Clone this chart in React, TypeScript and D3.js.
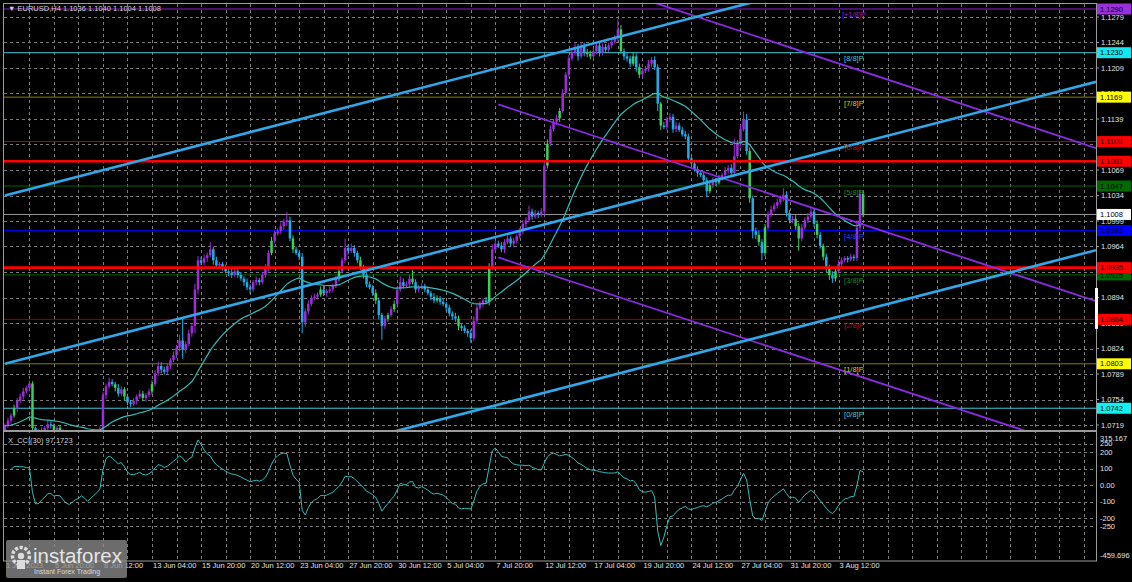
import * as d3 from "d3";

// ---- layout ----
const W = 1132;
const H = 582;
const LEFT = 4;
const RIGHT = 1096;
const MAIN_TOP = 4;
const MAIN_BOTTOM = 430;
const CCI_TOP = 433;
const CCI_BOTTOM = 561;
const FONT = "'Liberation Sans', Arial, sans-serif";

// ---- data (EURUSD H4, prices in pips above 1.0000) ----
const firstOpen = 712;
const closes = [
  718, 725, 732, 742, 752, // 1 Jun
  758, 765, 770, 776, 715, 710, // 2 Jun
  706, 712, 715, 720, 718, 712, // 5 Jun
  715, 710, 702, 695, 690, 697, // 6 Jun
  698, 700, 704, 697, 690, 700, // 7 Jun
  702, 706, 712, 760, 772, 778, // 8 Jun
  775, 770, 762, 768, 758, 750, // 9 Jun
  748, 752, 758, 762, 756, 760, // 12 Jun
  765, 775, 790, 800, 795, 792, // 13 Jun
  800, 808, 815, 825, 835, 822, // 14 Jun
  830, 845, 855, 905, 945, 942, // 15 Jun
  948, 952, 960, 945, 938, 940, // 16 Jun
  935, 930, 928, 925, 930, 925, // 19 Jun
  920, 915, 908, 905, 915, 918, // 20 Jun
  915, 925, 935, 955, 972, 982, // 21 Jun
  985, 992, 998, 1000, 975, 960, // 22 Jun
  955, 950, 860, 875, 885, 893, // 23 Jun
  895, 898, 905, 900, 903, 905, // 26 Jun
  910, 920, 930, 945, 962, 958, // 27 Jun
  962, 955, 945, 935, 925, 912, // 28 Jun
  908, 900, 890, 870, 855, 865, // 29 Jun
  870, 878, 885, 905, 915, 910, // 30 Jun
  912, 920, 915, 905, 908, 910, // 3 Jul
  905, 900, 895, 890, 893, 888, // 4 Jul
  885, 880, 872, 868, 865, 855, // 5 Jul
  852, 848, 845, 838, 862, 880, // 6 Jul
  885, 890, 888, 935, 960, 968, // 7 Jul
  965, 960, 970, 975, 968, 972, // 10 Jul
  978, 985, 995, 1000, 1012, 1005, // 11 Jul
  1010, 1008, 1012, 1075, 1105, 1125, // 12 Jul
  1135, 1140, 1150, 1175, 1200, 1222, // 13 Jul
  1230, 1238, 1225, 1240, 1230, 1228, // 14 Jul
  1225, 1232, 1240, 1230, 1238, 1234, // 17 Jul
  1240, 1245, 1250, 1262, 1232, 1225, // 18 Jul
  1222, 1215, 1225, 1210, 1200, 1205, // 19 Jul
  1208, 1215, 1220, 1210, 1160, 1130, // 20 Jul
  1128, 1138, 1142, 1125, 1130, 1124, // 21 Jul
  1118, 1115, 1085, 1078, 1070, 1065, // 24 Jul
  1062, 1055, 1040, 1048, 1055, 1052, // 25 Jul
  1058, 1062, 1068, 1072, 1065, 1088, // 26 Jul
  1105, 1125, 1138, 1095, 1030, 985, // 27 Jul
  980, 970, 955, 990, 1008, 1015, // 28 Jul
  1020, 1025, 1030, 1035, 1010, 1000, // 31 Jul
  1002, 992, 975, 990, 1000, 1005, // 1 Aug
  1012, 995, 980, 965, 950, 935, // 2 Aug
  925, 920, 930, 940, 945, 948, // 3 Aug
  946, 950, 948, 990, 1036, 1008, // 4 Aug
];
// wick lengths above max(open, close) / below min(open, close), pips
const wickHi = [
  3, 4, 3, 5, 4,
  4, 5, 3, 4, 3, 2,
  3, 4, 3, 5, 4, 3,
  3, 4, 3, 3, 5, 4,
  4, 3, 5, 3, 4, 4,
  3, 4, 5, 5, 4, 6,
  4, 3, 5, 4, 3, 4,
  3, 4, 3, 5, 4, 3,
  4, 5, 4, 6, 5, 4,
  4, 3, 5, 4, 8, 30,
  4, 5, 3, 8, 6, 5,
  5, 4, 10, 4, 5, 3,
  3, 4, 3, 5, 4, 3,
  4, 3, 5, 4, 3, 5,
  3, 4, 5, 4, 5, 4,
  4, 5, 4, 11, 5, 4,
  4, 3, 5, 4, 5, 4,
  4, 3, 4, 5, 3, 4,
  3, 4, 5, 4, 13, 5,
  6, 4, 3, 5, 4, 3,
  4, 3, 5, 4, 3, 4,
  3, 4, 5, 4, 8, 5,
  4, 5, 12, 4, 3, 4,
  3, 4, 3, 5, 4, 3,
  4, 3, 4, 3, 5, 4,
  3, 4, 3, 5, 6, 4,
  4, 3, 5, 6, 7, 5,
  4, 5, 4, 5, 3, 4,
  3, 4, 5, 4, 8, 4,
  4, 3, 5, 5, 6, 5,
  4, 5, 4, 5, 4, 5,
  4, 5, 4, 5, 4, 5,
  5, 4, 5, 4, 5, 4,
  4, 5, 4, 14, 6, 4,
  5, 4, 6, 4, 5, 4,
  4, 5, 4, 5, 4, 3,
  5, 4, 5, 4, 5, 4,
  4, 5, 4, 3, 5, 4,
  4, 5, 4, 5, 4, 3,
  4, 3, 5, 4, 5, 24,
  5, 6, 11, 8, 5, 4,
  5, 6, 4, 5, 4, 5,
  4, 5, 4, 9, 5, 4,
  4, 5, 4, 5, 4, 5,
  6, 4, 5, 4, 3, 4,
  4, 5, 4, 5, 4, 3,
  3, 4, 3, 10, 6, 4,
];
const wickLo = [
  4, 3, 4, 3, 5,
  3, 4, 3, 5, 8, 4,
  4, 3, 5, 3, 4, 5,
  4, 3, 4, 5, 3, 4,
  3, 4, 3, 5, 4, 3,
  4, 3, 3, 4, 5, 3,
  3, 5, 4, 3, 5, 4,
  4, 3, 5, 3, 4, 5,
  3, 4, 3, 4, 5, 4,
  3, 4, 3, 4, 5, 12,
  4, 3, 5, 10, 6, 4,
  4, 5, 3, 6, 4, 5,
  4, 3, 5, 4, 3, 4,
  3, 5, 4, 6, 3, 4,
  4, 3, 4, 5, 3, 4,
  3, 4, 5, 6, 4, 5,
  3, 5, 15, 6, 4, 3,
  3, 4, 3, 4, 5, 3,
  4, 3, 4, 3, 4, 5,
  3, 5, 4, 3, 5, 4,
  3, 4, 5, 6, 19, 4,
  4, 3, 4, 5, 3, 4,
  3, 4, 3, 5, 4, 3,
  4, 3, 5, 4, 3, 4,
  3, 5, 4, 5, 4, 6,
  4, 3, 5, 6, 3, 4,
  3, 4, 3, 5, 4, 3,
  3, 4, 5, 3, 4, 5,
  4, 3, 4, 5, 3, 4,
  3, 5, 4, 5, 4, 3,
  3, 4, 5, 3, 4, 3,
  3, 4, 6, 3, 5, 4,
  4, 3, 4, 5, 4, 3,
  3, 4, 3, 5, 4, 5,
  4, 5, 3, 6, 5, 4,
  3, 4, 5, 4, 10, 6,
  3, 4, 3, 5, 4, 3,
  3, 4, 5, 4, 3, 5,
  3, 4, 8, 3, 4, 5,
  3, 4, 3, 4, 6, 5,
  3, 4, 3, 5, 6, 10,
  6, 5, 10, 4, 3, 4,
  3, 4, 3, 4, 5, 4,
  4, 5, 17, 4, 3, 4,
  3, 4, 5, 4, 5, 6,
  7, 6, 4, 3, 4, 3,
  4, 3, 4, 4, 5, 4,
];
const greenBars = [3, 9, 16, 18, 36, 39, 45, 48, 87, 94, 103, 109, 116, 121, 125, 127, 133, 141, 148, 158, 177, 181, 190, 191, 201, 205, 207, 214, 230, 233, 243, 246, 248, 258, 259, 265, 267, 269, 271, 280];

const LAST_BAR_SLOT = 356; // right edge of the chart in bar units (chart shift)
const MA_PERIOD = 40; // exponential
const CCI_PERIOD = 30;

const priceTicks = [1.1279, 1.1244, 1.1209, 1.1174, 1.1139, 1.1104, 1.1069, 1.1034, 1.0999, 1.0964, 1.0929, 1.0894, 1.0859, 1.0824, 1.0789, 1.0754, 1.0719];
const cciTicks = [315.167, 250, 200, 100, 0, -100, -200, -250, -459.696];
const cciTickLabels = ["315.167", "250", "200", "100", "0.00", "-100", "-200", "-250", "-459.696"];
const cciGrid = [250, 200, 100, 0, -100, -200, -250];

const timeTickBars = [0, 16, 32, 48, 64, 80, 96, 112, 128, 144, 160, 176, 192, 208, 224, 240, 256, 272];
const timeLabels = ["1 Jun 2023", "5 Jun 20:00", "8 Jun 12:00", "13 Jun 04:00", "15 Jun 20:00", "20 Jun 12:00", "23 Jun 04:00", "27 Jun 20:00", "30 Jun 12:00", "5 Jul 04:00", "7 Jul 20:00", "12 Jul 12:00", "17 Jul 04:00", "19 Jul 20:00", "24 Jul 12:00", "27 Jul 04:00", "31 Jul 20:00", "3 Aug 12:00"];

const murrayNames = ["[+1/8]P", "[8/8]P", "[7/8]P", "[6/8]P", "[5/8]P", "[4/8]P", "[3/8]P", "[2/8]P", "[1/8]P", "[0/8]P"];
const murrayPrices = [1.129, 1.123, 1.1169, 1.1108, 1.1047, 1.0986, 1.0925, 1.0864, 1.0803, 1.0742];
const srLevels = [1.1081, 1.0935];
const bidPrice = 1.1008;

// channel lines as [bar, price] end points
const blueLines: [number, number][][] = [
  [[0, 1.1034], [356, 1.1421]],
  [[0, 1.0803], [356, 1.119]],
  [[0, 1.0572], [356, 1.0959]],
];
const purpleLines: [number, number][][] = [
  [[161, 1.1369], [356, 1.1099]],
  [[161, 1.1159], [356, 1.0889]],
  [[161, 1.0949], [356, 1.0679]],
];

// ---- styles ----
const murrayStyle: Record<string, { line: string; text: string; tag: string }> = {
  "[+1/8]P": { line: "#8a22d0", text: "#8a22d0", tag: "#9a30d8" },
  "[8/8]P": { line: "#3ec8d8", text: "#3ec8d8", tag: "#10e8f0" },
  "[7/8]P": { line: "#808000", text: "#d0d000", tag: "#ffff00" },
  "[6/8]P": { line: "#c00000", text: "#d00000", tag: "#ff0000" },
  "[5/8]P": { line: "#006400", text: "#1c8c1c", tag: "#006a00" },
  "[4/8]P": { line: "#0000e0", text: "#2040ff", tag: "#0000ff" },
  "[3/8]P": { line: "#006400", text: "#1c8c1c", tag: "#006a00" },
  "[2/8]P": { line: "#a00000", text: "#d00000", tag: "#ff0000" },
  "[1/8]P": { line: "#808000", text: "#d0d000", tag: "#ffff00" },
  "[0/8]P": { line: "#3ec8d8", text: "#3ec8d8", tag: "#10f0f0" },
};
const BULL = "#9a2fd6";
const BEAR = "#22ace8";
const GREEN = "#3ccf5a";
const GRID = "#7a7a7a";
const FRAME = "#9a9a9a";
const AQUA = "#33bdb8";

const toPrice = (v: number) => 1 + v / 10000;

const bars = closes.map((c, i) => {
  const o = i === 0 ? firstOpen : closes[i - 1];
  return {
    i,
    o: toPrice(o),
    c: toPrice(c),
    h: toPrice(Math.max(o, c) + wickHi[i]),
    l: toPrice(Math.min(o, c) - wickLo[i]),
  };
});

// exponential moving average of closes
const alpha = 2 / (MA_PERIOD + 1);
const ma: number[] = [];
bars.forEach((b, i) => {
  ma.push(i === 0 ? b.c : ma[i - 1] + alpha * (b.c - ma[i - 1]));
});

// commodity channel index on typical price
const tp = bars.map((b) => (b.h + b.l + b.c) / 3);
const cci = tp.map((v, i) => {
  const win = tp.slice(Math.max(0, i - CCI_PERIOD + 1), i + 1);
  if (win.length < 3) return null;
  const m = d3.mean(win) as number;
  const md = d3.mean(win, (t) => Math.abs(t - m)) as number;
  return md === 0 ? 0 : (v - m) / (0.015 * md);
});

export default function App() {
  const x = d3.scaleLinear().domain([0, LAST_BAR_SLOT]).range([4.9, RIGHT]);
  const y = d3.scaleLinear().domain([1.0719, 1.1279]).range([425, 17]);
  const yc = d3.scaleLinear().domain([-459.696, 315.167]).range([CCI_BOTTOM, CCI_TOP]);

  const green = new Set(greenBars);
  const maLine = d3.line<number>().x((_, i) => x(i)).y((d) => y(d));
  const cciLine = d3
    .line<number | null>()
    .defined((d) => d !== null)
    .x((_, i) => x(i))
    .y((d) => yc(d as number));

  const vGrid = d3.range(8, LAST_BAR_SLOT + 1, 8);

  const tag = (p: number, fill: string, key: string, textFill = "#000") => (
    <g key={key}>
      <rect x={RIGHT + 1} y={y(p) - 5.5} width={34} height={11} fill={fill} />
      <text x={RIGHT + 4} y={y(p)} dy="0.35em" fontSize={7.5} fill={textFill} fontFamily={FONT}>
        {p.toFixed(4)}
      </text>
    </g>
  );

  return (
    <svg width={W} height={H} style={{ position: "absolute", left: 0, top: 0, background: "#000" }}>
      <defs>
        <clipPath id="mainClip">
          <rect x={LEFT} y={MAIN_TOP} width={RIGHT - LEFT} height={MAIN_BOTTOM - MAIN_TOP} />
        </clipPath>
        <clipPath id="cciClip">
          <rect x={LEFT} y={CCI_TOP} width={RIGHT - LEFT} height={CCI_BOTTOM - CCI_TOP} />
        </clipPath>
      </defs>
      <rect width={W} height={H} fill="#000" />

      {/* grid */}
      <g stroke={GRID} strokeDasharray="3,3" strokeWidth={1}>
        {vGrid.map((b) => (
          <line key={"vg" + b} x1={Math.round(x(b)) + 0.5} x2={Math.round(x(b)) + 0.5} y1={MAIN_TOP} y2={CCI_BOTTOM} />
        ))}
        {priceTicks.map((p) => (
          <line key={"hg" + p} x1={LEFT} x2={RIGHT} y1={Math.round(y(p)) + 0.5} y2={Math.round(y(p)) + 0.5} />
        ))}
        {cciGrid.map((v) => (
          <line key={"cg" + v} x1={LEFT} x2={RIGHT} y1={Math.round(yc(v)) + 0.5} y2={Math.round(yc(v)) + 0.5} />
        ))}
      </g>

      <g clipPath="url(#mainClip)">
        {/* murray levels */}
        {murrayNames.map((n, k) => (
          <line key={n} x1={LEFT} x2={RIGHT} y1={y(murrayPrices[k])} y2={y(murrayPrices[k])} stroke={murrayStyle[n].line} strokeWidth={1} />
        ))}
        <line x1={LEFT} x2={RIGHT} y1={y(bidPrice)} y2={y(bidPrice)} stroke="#9a9a9a" strokeWidth={1} />

        {/* candles */}
        {bars.map((b) => {
          const col = green.has(b.i) ? GREEN : b.c >= b.o ? BULL : BEAR;
          const top = y(Math.max(b.o, b.c));
          const hgt = Math.max(1, Math.abs(y(b.o) - y(b.c)));
          return (
            <g key={b.i}>
              <line x1={x(b.i)} x2={x(b.i)} y1={y(b.h)} y2={y(b.l)} stroke={col} strokeWidth={1} />
              <rect x={x(b.i) - 1.25} y={top} width={2.5} height={hgt} fill={col} />
            </g>
          );
        })}

        {/* moving average */}
        <path d={maLine(ma) || ""} fill="none" stroke={AQUA} strokeWidth={1.2} />

        {/* support / resistance */}
        {srLevels.map((p) => (
          <line key={"sr" + p} x1={LEFT} x2={RIGHT} y1={y(p)} y2={y(p)} stroke="#ff0000" strokeWidth={2.6} />
        ))}

        {/* channels */}
        {purpleLines.map((ln, k) => (
          <line key={"pl" + k} x1={x(ln[0][0])} y1={y(ln[0][1])} x2={x(ln[1][0])} y2={y(ln[1][1])} stroke="#8a2be2" strokeWidth={1.8} />
        ))}
        {blueLines.map((ln, k) => (
          <line key={"bl" + k} x1={x(ln[0][0])} y1={y(ln[0][1])} x2={x(ln[1][0])} y2={y(ln[1][1])} stroke="#2ea8e8" strokeWidth={2.6} />
        ))}

        {/* murray names */}
        {murrayNames.map((n, k) => (
          <text key={"t" + n} x={x(277)} y={y(murrayPrices[k]) + 8.5} textAnchor="middle" fontSize={7.5} fill={murrayStyle[n].text} fontFamily={FONT}>
            {n}
          </text>
        ))}
      </g>

      {/* CCI */}
      <g clipPath="url(#cciClip)">
        <path d={cciLine(cci) || ""} fill="none" stroke={AQUA} strokeWidth={1} />
      </g>

      {/* frames */}
      <g fill="none" stroke={FRAME} strokeWidth={1}>
        <rect x={LEFT - 0.5} y={MAIN_TOP - 0.5} width={RIGHT - LEFT + 1} height={MAIN_BOTTOM - MAIN_TOP + 1} />
        <rect x={LEFT - 0.5} y={CCI_TOP - 1.5} width={RIGHT - LEFT + 1} height={CCI_BOTTOM - CCI_TOP + 1.5} />
      </g>

      {/* titles */}
      <text x={8} y={11} fontSize={7.5} fill="#d0d0d0" fontFamily={FONT}>
        ▼ EURUSD,H4  1.1036 1.1040 1.1004 1.1008
      </text>
      <text x={8} y={443} fontSize={7.5} fill="#d0d0d0" fontFamily={FONT}>
        X_CCI(30) 97.1723
      </text>

      {/* price axis */}
      {priceTicks.map((p) => (
        <g key={"pt" + p}>
          <line x1={RIGHT} x2={RIGHT + 3} y1={y(p)} y2={y(p)} stroke={FRAME} />
          <text x={RIGHT + 5} y={y(p)} dy="0.35em" fontSize={7.5} fill="#e0e0e0" fontFamily={FONT}>
            {p.toFixed(4)}
          </text>
        </g>
      ))}
      {cciTicks.map((v, k) => {
        const yy = Math.min(CCI_BOTTOM - 6, Math.max(CCI_TOP + 5, yc(v)));
        return (
          <text key={"ct" + k} x={RIGHT + 4} y={yy} dy="0.35em" fontSize={7.5} fill="#e0e0e0" fontFamily={FONT}>
            {cciTickLabels[k]}
          </text>
        );
      })}

      {/* price tags */}
      {murrayNames.map((n, k) => tag(murrayPrices[k], murrayStyle[n].tag, "tag" + n))}
      {srLevels.map((p) => tag(p, "#ff0000", "sr" + p))}
      {tag(bidPrice, "#ffffff", "bid")}
      <rect x={RIGHT - 1} y={y(1.0907)} width={3} height={y(1.0851) - y(1.0907)} fill="#ffffff" />

      {/* time axis */}
      {timeTickBars.map((b, k) => (
        <text key={"tl" + b} x={x(b) + 1} y={568} fontSize={7.5} fill="#e0e0e0" fontFamily={FONT}>
          {timeLabels[k]}
        </text>
      ))}

      {/* watermark */}
      <g>
        <rect x={6} y={540} width={121} height={38} rx={2} fill="#8a8a8a" opacity={0.78} />
        <circle cx={21} cy={556} r={8.5} fill="none" stroke="#dcdcdc" strokeWidth={3.5} strokeDasharray="3.2,1.6" />
        <circle cx={21} cy={556} r={3.2} fill="#dcdcdc" />
        <rect x={17} y={560} width={8} height={9} fill="#dcdcdc" />
        <text x={33} y={563} fontSize={20.5} fill="#e4e4e4" fontFamily={FONT}>
          instaforex
        </text>
        <text x={34} y={574} fontSize={7} fill="#d8d8d8" fontFamily={FONT}>
          Instant Forex Trading
        </text>
      </g>
    </svg>
  );
}
